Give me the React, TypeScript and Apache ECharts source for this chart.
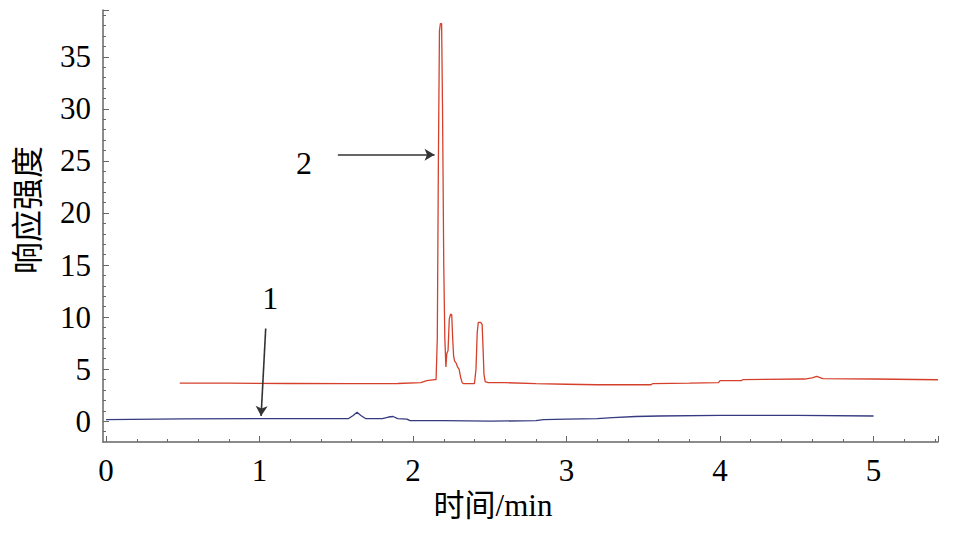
import React, { useEffect, useRef } from "react";
import * as echarts from "echarts";

// Sample 2 (red trace): [time/min, response]
const series2Time = [0.48, 0.8, 1.2, 1.6, 1.9, 2.05, 2.09, 2.14, 2.15, 2.158, 2.165, 2.172, 2.178, 2.186, 2.192, 2.2, 2.207, 2.214, 2.22, 2.228, 2.236, 2.245, 2.252, 2.258, 2.264, 2.27, 2.28, 2.29, 2.3, 2.31, 2.32, 2.33, 2.36, 2.4, 2.41, 2.418, 2.425, 2.44, 2.45, 2.456, 2.462, 2.47, 2.49, 2.6, 2.8, 3.0, 3.2, 3.55, 3.56, 3.8, 3.99, 4.0, 4.14, 4.15, 4.55, 4.6, 4.63, 4.67, 5.0, 5.42];
const series2Value = [3.65, 3.65, 3.62, 3.6, 3.62, 3.7, 3.9, 4.0, 4.0, 8, 25, 37.5, 38.2, 38.2, 30, 15, 8, 5.2, 6.5, 6.8, 9.8, 10.3, 10.2, 8, 6.3, 5.8, 5.6, 5.2, 5.0, 4.2, 3.7, 3.6, 3.6, 3.6, 5, 8.5, 9.5, 9.5, 9.3, 7, 4.5, 3.8, 3.7, 3.7, 3.6, 3.55, 3.5, 3.5, 3.6, 3.65, 3.7, 3.9, 3.9, 4.0, 4.05, 4.15, 4.3, 4.08, 4.05, 3.98];

// Sample 1 (blue trace)
const series1Time = [0, 0.5, 1.0, 1.5, 1.58, 1.61, 1.635, 1.66, 1.69, 1.8, 1.84, 1.87, 1.9, 1.96, 1.98, 2.2, 2.5, 2.8, 2.85, 3.0, 3.2, 3.3, 3.45, 3.6, 4.0, 4.5, 5.0];
const series1Value = [0.15, 0.22, 0.25, 0.25, 0.25, 0.55, 0.85, 0.55, 0.25, 0.25, 0.4, 0.45, 0.25, 0.2, 0.05, 0.05, 0.0, 0.05, 0.15, 0.2, 0.25, 0.35, 0.45, 0.5, 0.55, 0.55, 0.5];

// Axis ticks / labels
const xMajorStep = 1;
const xMinorStep = 0.2;
const yMajorStep = 5;
const yMinorStep = 1;

// Annotations: arrow start, arrow end, label position, label text
const arrow2 = [[1.51, 25.6], [2.14, 25.6]];
const label2 = { pos: [1.29, 24.8], text: "2" };
const arrow1 = [[1.04, 8.9], [1.01, 0.5]];
const label1 = { pos: [1.07, 11.8], text: "1" };

const X_MIN = -0.02;
const X_MAX = 5.42;
const Y_MIN = -2;
const Y_MAX = 39.5;

const FONT = "'Liberation Serif', 'Noto Sans CJK SC', serif";
const AXIS_COLOR = "#666666";
const RED = "#d5402c";
const BLUE = "#363a80";

export default function App() {
  const ref = useRef<HTMLDivElement>(null);

  useEffect(() => {
    if (!ref.current) return;
    const chart = echarts.init(ref.current, null, { renderer: "svg" });

    const red = series2Time.map((t, i) => [t, series2Value[i]]);
    const blue = series1Time.map((t, i) => [t, series1Value[i]]);

    const W = 958;
    const H = 552;
    const L = 103;
    const R = 20;
    const T = 10;
    const B = 110;
    const pxPerX = (W - L - R) / (X_MAX - X_MIN);
    const pxPerY = (H - T - B) / (Y_MAX - Y_MIN);
    // pixel positions of the tick origins, derived from the data grid scale
    const x0Left = L + (0 - X_MIN) * pxPerX;
    const y0Bottom = B + (0 - Y_MIN) * pxPerY;
    const yMinusOneBottom = B + (-1 - Y_MIN) * pxPerY;

    const hidden = { show: false };
    const dummyX = (gridIndex: number) => ({ type: "value", gridIndex, show: false, min: 0, max: 1 });
    const dummyY = (gridIndex: number) => ({ type: "value", gridIndex, show: false, min: 0, max: 1 });
    const isMultiple = (v: number, s: number) => Math.abs(v / s - Math.round(v / s)) < 1e-6;

    chart.setOption({
      animation: false,
      backgroundColor: "#ffffff",
      grid: [
        { left: L, right: R, top: T, bottom: B },
        { left: x0Left, right: R, top: T, bottom: B },
        { left: x0Left, right: R, top: T, bottom: B },
        { left: L, right: R, top: T, bottom: y0Bottom },
        { left: L, right: R, top: T, bottom: yMinusOneBottom },
      ],
      xAxis: [
        {
          type: "value",
          gridIndex: 0,
          min: X_MIN,
          max: X_MAX,
          axisLine: { show: true, onZero: false, lineStyle: { color: AXIS_COLOR, width: 1.5 } },
          axisTick: hidden,
          axisLabel: hidden,
          splitLine: hidden,
        },
        {
          type: "value",
          gridIndex: 1,
          min: 0,
          max: X_MAX,
          interval: xMajorStep,
          axisLine: { show: false },
          axisTick: { show: true, inside: true, length: 6, lineStyle: { color: AXIS_COLOR, width: 1 } },
          axisLabel: {
            show: true,
            margin: 13,
            color: "#000",
            fontFamily: FONT,
            fontSize: 31,
            formatter: (v: number) => (isMultiple(v, xMajorStep) ? String(v) : ""),
          },
          splitLine: hidden,
        },
        {
          type: "value",
          gridIndex: 2,
          min: 0,
          max: X_MAX,
          interval: xMinorStep,
          axisLine: { show: false },
          axisTick: { show: true, inside: true, length: 3, lineStyle: { color: AXIS_COLOR, width: 1 } },
          axisLabel: hidden,
          splitLine: hidden,
        },
        dummyX(3),
        dummyX(4),
      ],
      yAxis: [
        {
          type: "value",
          gridIndex: 0,
          min: Y_MIN,
          max: Y_MAX,
          axisLine: { show: true, onZero: false, lineStyle: { color: AXIS_COLOR, width: 1.5 } },
          axisTick: hidden,
          axisLabel: hidden,
          splitLine: hidden,
        },
        dummyY(1),
        dummyY(2),
        {
          type: "value",
          gridIndex: 3,
          min: 0,
          max: Y_MAX,
          interval: yMajorStep,
          axisLine: { show: false },
          axisTick: { show: true, inside: true, length: 6, lineStyle: { color: AXIS_COLOR, width: 1 } },
          axisLabel: {
            show: true,
            margin: 12,
            color: "#000",
            fontFamily: FONT,
            fontSize: 31,
            formatter: (v: number) => (isMultiple(v, yMajorStep) ? String(v) : ""),
          },
          splitLine: hidden,
        },
        {
          type: "value",
          gridIndex: 4,
          min: -1,
          max: Y_MAX,
          interval: yMinorStep,
          axisLine: { show: false },
          axisTick: { show: true, inside: true, length: 3, lineStyle: { color: AXIS_COLOR, width: 1 } },
          axisLabel: hidden,
          splitLine: hidden,
        },
      ],
      series: [
        {
          name: "1",
          type: "line",
          xAxisIndex: 0,
          yAxisIndex: 0,
          data: blue,
          showSymbol: false,
          lineStyle: { color: BLUE, width: 1.3 },
          itemStyle: { color: BLUE },
          z: 3,
          markLine: {
            silent: true,
            symbol: ["none", "arrow"],
            symbolSize: [9, 10],
            lineStyle: { color: "#333333", width: 1.6, type: "solid" },
            label: { show: false },
            data: [
              [{ coord: arrow1[0] }, { coord: arrow1[1] }],
              [{ coord: arrow2[0] }, { coord: arrow2[1] }],
            ],
          },
          markPoint: {
            silent: true,
            symbol: "circle",
            symbolSize: 0,
            label: { show: true, color: "#000", fontFamily: FONT, fontSize: 32, position: "inside" },
            data: [
              { coord: label1.pos, value: label1.text, label: { formatter: label1.text } },
              { coord: label2.pos, value: label2.text, label: { formatter: label2.text } },
            ],
          },
        },
        {
          name: "2",
          type: "line",
          xAxisIndex: 0,
          yAxisIndex: 0,
          data: red,
          showSymbol: false,
          lineStyle: { color: RED, width: 1.3 },
          itemStyle: { color: RED },
          z: 2,
        },
      ],
      graphic: [
        {
          type: "text",
          x: 493,
          y: 505,
          style: {
            text: "时间/min",
            font: `31px ${FONT}`,
            fill: "#000",
            textAlign: "center",
            textVerticalAlign: "middle",
          },
        },
        {
          type: "text",
          x: 28,
          y: 210,
          rotation: Math.PI / 2,
          style: {
            text: "响应强度",
            font: `32px ${FONT}`,
            fill: "#000",
            textAlign: "center",
            textVerticalAlign: "middle",
          },
        },
      ],
    });

    return () => chart.dispose();
  }, []);

  return (
    <div
      ref={ref}
      style={{ position: "absolute", left: 0, top: 0, width: 958, height: 552 }}
    />
  );
}
